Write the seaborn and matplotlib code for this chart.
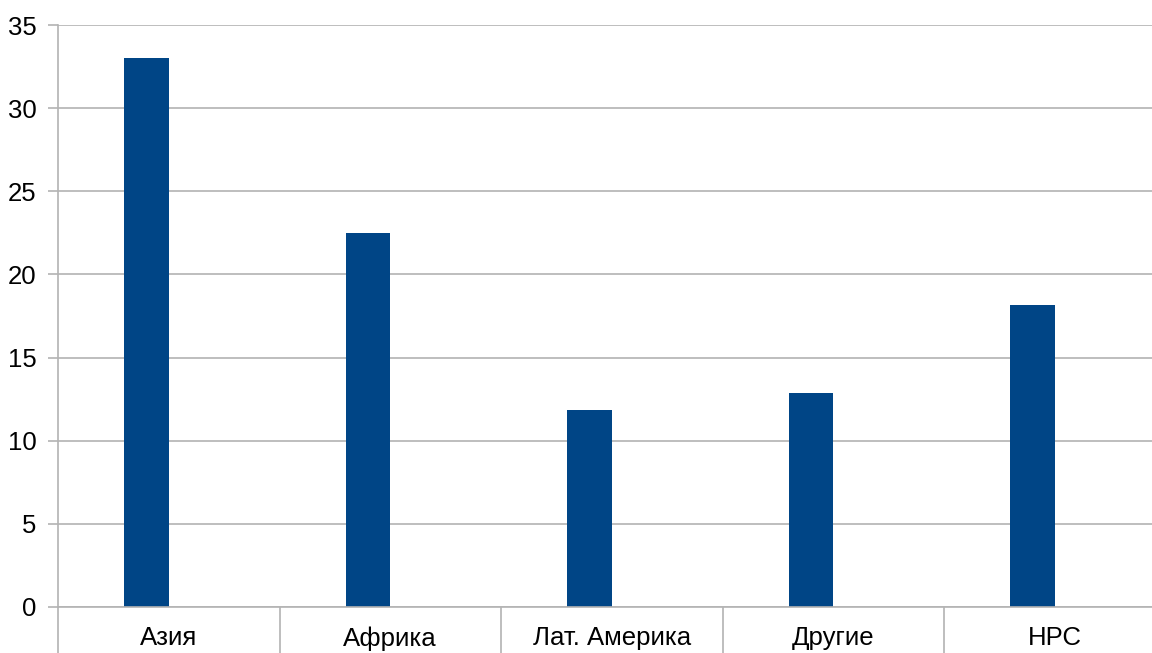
import matplotlib
matplotlib.use("Agg")
import matplotlib.pyplot as plt
import numpy as np
import pandas as pd
import seaborn as sns
from matplotlib.ticker import FixedLocator

categories = ["Азия", "Африка", "Лат. Америка", "Другие", "НРС"]
values = [33.0, 22.5, 11.85, 12.85, 18.15]
y_ticks = [0, 5, 10, 15, 20, 25, 30, 35]

BAR_COLOR = "#004586"
GRID_COLOR = "#b3b3b3"

# the original is a two-slot grouped chart with only the first slot filled
df = pd.DataFrame({
    "region": categories * 2,
    "value": values + [np.nan] * len(values),
    "series": ["main"] * len(values) + ["empty"] * len(values),
})

sns.set_style("white")
plt.rcParams["font.family"] = ["Liberation Sans", "DejaVu Sans"]
plt.rcParams["text.color"] = "black"
plt.rcParams["xtick.color"] = "black"
plt.rcParams["ytick.color"] = "black"

fig = plt.figure(figsize=(11.52, 6.53), dpi=100)
ax = fig.add_axes([58 / 1152, 46 / 653, 1107.5 / 1152, 582 / 653])

sns.barplot(data=df, x="region", y="value", hue="series", hue_order=["main", "empty"],
            palette=[BAR_COLOR, BAR_COLOR], width=0.4, dodge=True, legend=False,
            saturation=1, linewidth=0, ax=ax)

ax.set_xlim(-0.5, len(categories) - 0.5)
ax.set_ylim(0, 35)
ax.set_yticks(y_ticks)
ax.yaxis.grid(True, color=GRID_COLOR, linewidth=1.2)
ax.set_axisbelow(True)
ax.set_xlabel("")
ax.set_ylabel("")

for side in ["top", "right"]:
    ax.spines[side].set_visible(False)
for side in ["left", "bottom"]:
    ax.spines[side].set_color(GRID_COLOR)
    ax.spines[side].set_linewidth(1.2)

ax.tick_params(axis="y", left=True, length=7.5, width=1.2, color=GRID_COLOR,
               labelcolor="black", pad=8, labelsize=18.5)
ax.tick_params(axis="x", which="major", length=0, pad=14, labelcolor="black", labelsize=18.5)
ax.xaxis.set_minor_locator(FixedLocator(np.arange(-0.5, len(categories), 1.0)))
ax.tick_params(axis="x", which="minor", bottom=True, length=34, width=1.2, color=GRID_COLOR)

fig.savefig("out.png", dpi=100)
